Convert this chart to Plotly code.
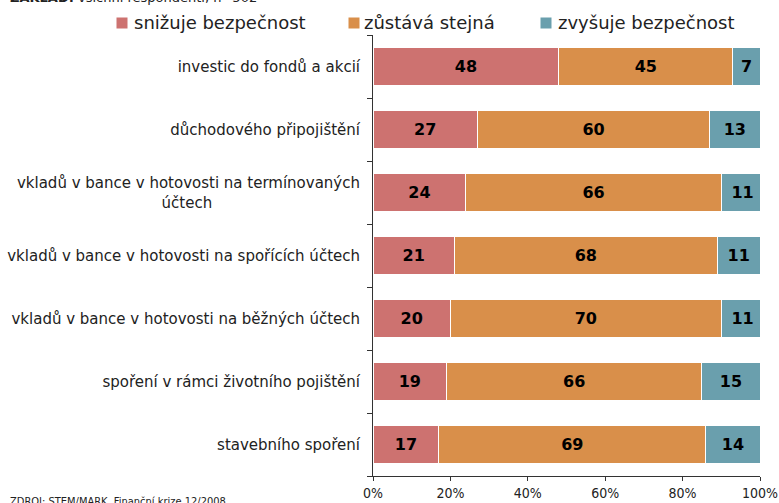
import plotly.graph_objects as go

categories = [
    "investic do fondů a akcií",
    "důchodového připojištění",
    "vkladů v bance v hotovosti na termínovaných<br>účtech",
    "vkladů v bance v hotovosti na spořících účtech",
    "vkladů v bance v hotovosti na běžných účtech",
    "spoření v rámci životního pojištění",
    "stavebního spoření",
]
snizuje = [48, 27, 24, 21, 20, 19, 17]
zustava = [45, 60, 66, 68, 70, 66, 69]
zvysuje = [7, 13, 11, 11, 11, 15, 14]
series_names = ["snižuje bezpečnost", "zůstává stejná", "zvyšuje bezpečnost"]
colors = ["#CD7270", "#D98F4A", "#6A9FAD"]
tick_vals = [0, 20, 40, 60, 80, 100]
tick_text = ["0%", "20%", "40%", "60%", "80%", "100%"]

W, H = 779, 503
L, R, T, B = 373, 19, 35, 27
PW, PH = W - L - R, H - T - B

def px_x(x):
    return (x - L) / PW

def px_y(y):
    return 1 - (y - T) / PH

# center the wrapped second line under the first (tick labels are right-aligned)
NBSP = "\u00a0"
def display_label(c):
    if "<br>" in c:
        a, b = c.split("<br>")
        return a + "<br>" + b + NBSP * 31
    return c

cats = [display_label(c) for c in categories[::-1]]
fig = go.Figure()
for name, vals, col in zip(series_names, [snizuje, zustava, zvysuje], colors):
    v = vals[::-1]
    fig.add_trace(go.Bar(
        y=cats, x=v, name=name, orientation="h",
        marker=dict(color=col, line=dict(color="white", width=1)),
        text=[str(x) for x in v], textposition="inside", insidetextanchor="middle",
        textfont=dict(family="DejaVu Sans", size=16, color="black", weight="bold"),
        width=0.61, constraintext="none", showlegend=False,
    ))

fig.update_layout(
    barmode="stack",
    width=W, height=H,
    margin=dict(l=L, r=R, t=T, b=B, autoexpand=False),
    paper_bgcolor="white", plot_bgcolor="white",
    font=dict(family="DejaVu Sans", color="#222"),
    showlegend=False,
    uniformtext=dict(mode="show", minsize=10),
)
fig.update_xaxes(
    range=[0, 100], tickvals=tick_vals, ticktext=tick_text,
    showgrid=False, zeroline=False, showline=True, linecolor="#333", linewidth=1,
    ticks="outside", ticklen=4, tickcolor="#333",
    tickfont=dict(family="DejaVu Sans Condensed, DejaVu Sans", size=14, color="#222"),
    automargin=False,
)
fig.update_yaxes(
    categoryorder="array", categoryarray=cats, range=[-0.5, 6.5],
    showgrid=False, showline=True, linecolor="#333", linewidth=1,
    ticks="outside", ticklen=5, tickcolor="#333", tickson="boundaries",
    tickfont=dict(family="DejaVu Sans", size=15, color="#222"),
    ticklabelstandoff=9, automargin=False,
)

# legend (manual placement to match reference)
leg_sq = [116, 348, 540]
leg_tx = [132, 362, 556]
for name, col, sx, tx in zip(series_names, colors, leg_sq, leg_tx):
    fig.add_annotation(xref="paper", yref="paper", x=px_x(sx), y=px_y(23),
                       xanchor="left", yanchor="middle", text=" ", showarrow=False,
                       bgcolor=col, width=8, height=8, borderpad=1, font=dict(size=6))
    fig.add_annotation(xref="paper", yref="paper", x=px_x(tx), y=px_y(22),
                       xanchor="left", yanchor="middle", text=name, showarrow=False,
                       font=dict(size=18, color="#222"))

fig.add_annotation(xref="paper", yref="paper", x=px_x(8), y=px_y(-2), xanchor="left", yanchor="middle",
                   text="<b>ZÁKLAD:</b> všichni respondenti, n=502", showarrow=False,
                   font=dict(size=13, color="#222"))
fig.add_annotation(xref="paper", yref="paper", x=px_x(8), y=px_y(501), xanchor="left", yanchor="middle",
                   text="ZDROJ: STEM/MARK, Finanční krize 12/2008", showarrow=False,
                   font=dict(family="DejaVu Sans Condensed, DejaVu Sans", size=11, color="#222"))
fig.write_html("out.html", config={"displayModeBar": False},
               post_script="document.body.style.margin='0';")
